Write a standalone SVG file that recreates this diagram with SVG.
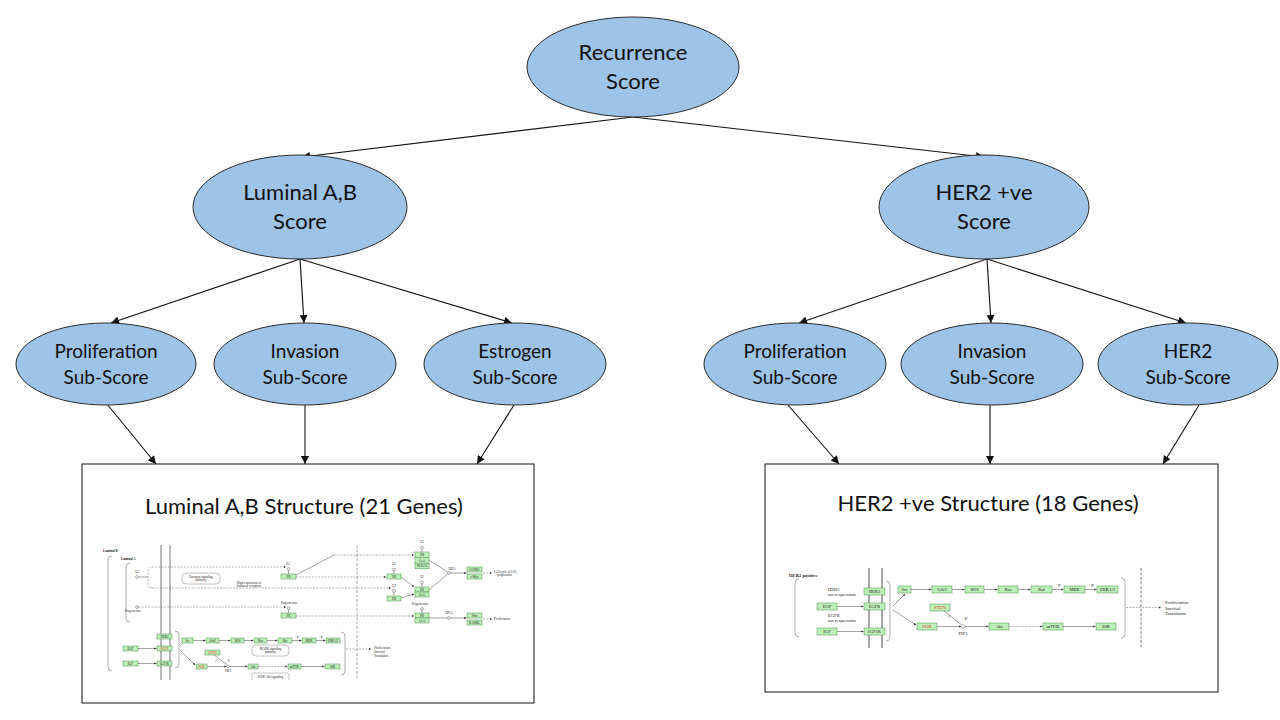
<svg xmlns="http://www.w3.org/2000/svg" width="1280" height="720" viewBox="0 0 1280 720">
<defs>
<style>
.node ellipse{fill:#9dc3e6;stroke:#2b2b2b;stroke-width:1}
.lbl{font-family:Lato,"Liberation Sans",sans-serif;fill:#111;text-anchor:middle}
.big{font-size:22px}
.sub{font-size:19px}
.conn line{stroke:#111;stroke-width:1.1;marker-end:url(#ah)}
.frame{fill:#fff;stroke:#111;stroke-width:1}
.title{font-family:Lato,"Liberation Sans",sans-serif;font-size:22px;fill:#111;text-anchor:middle}
.g{fill:#bdf0b8;stroke:#4a8a4a;stroke-width:0.5}
.mem{stroke:#8a8a8a;fill:none}
.br{stroke:#8a8a8a;fill:none;stroke-width:0.7}
.vd{stroke:#a8a8a8;fill:none;stroke-dasharray:3 1.5}
.pl{stroke:#333;stroke-width:0.45;fill:none}
.pa{stroke:#333;stroke-width:0.45;fill:none;marker-end:url(#sa)}
.pd{stroke:#555;stroke-width:0.45;fill:none;stroke-dasharray:2 1.2;marker-end:url(#sa)}
.c{fill:#fff;stroke:#333;stroke-width:0.4}
.rr{fill:#fff;stroke:#666;stroke-width:0.4}
.s{font-family:"Liberation Serif",serif;font-size:3.2px;fill:#222}
.sc{font-family:"Liberation Serif",serif;font-size:3.2px;fill:#222;text-anchor:middle}
.m{font-family:"Liberation Serif",serif;font-size:4.6px;fill:#222}
.mc{font-family:"Liberation Serif",serif;font-size:4.6px;fill:#222;text-anchor:middle}
.b{font-weight:bold}
text.r{fill:#e0301e}
</style>
<marker id="ah" viewBox="0 0 10 10" refX="10" refY="5" markerUnits="userSpaceOnUse" markerWidth="9" markerHeight="8" orient="auto">
<path d="M0,0 L10,5 L0,10 z" fill="#111"/>
</marker>
<marker id="sa" viewBox="0 0 10 10" refX="10" refY="5" markerUnits="userSpaceOnUse" markerWidth="2.6" markerHeight="2.2" orient="auto">
<path d="M0,0 L10,5 L0,10 z" fill="#222"/>
</marker>
</defs>
<rect width="1280" height="720" fill="#fff"/>

<g id="connectors" class="conn">
<line x1="633" y1="117" x2="302" y2="157"/>
<line x1="633" y1="117" x2="984" y2="157"/>
<line x1="300" y1="259" x2="111" y2="323"/>
<line x1="300" y1="259" x2="304" y2="323"/>
<line x1="300" y1="259" x2="512" y2="323"/>
<line x1="987" y1="259" x2="799" y2="323"/>
<line x1="987" y1="259" x2="991" y2="323"/>
<line x1="987" y1="259" x2="1186" y2="323"/>
<line x1="107" y1="404" x2="156" y2="464"/>
<line x1="305" y1="405" x2="305" y2="464"/>
<line x1="514" y1="405" x2="477" y2="464"/>
<line x1="788" y1="405" x2="839" y2="464"/>
<line x1="990" y1="405" x2="990" y2="464"/>
<line x1="1199" y1="405" x2="1163" y2="464"/>
</g>

<g id="recurrence" class="node">
<ellipse cx="633" cy="67" rx="106" ry="50"/>
<text class="lbl big" x="633" y="60">Recurrence</text>
<text class="lbl big" x="633" y="89">Score</text>
</g>
<g id="luminal" class="node">
<ellipse cx="300" cy="207" rx="107" ry="52"/>
<text class="lbl big" x="300" y="200">Luminal A,B</text>
<text class="lbl big" x="300" y="229">Score</text>
</g>
<g id="her2score" class="node">
<ellipse cx="984" cy="207" rx="105" ry="52"/>
<text class="lbl big" x="984" y="200">HER2 +ve</text>
<text class="lbl big" x="984" y="229">Score</text>
</g>
<g id="prolif-l" class="node">
<ellipse cx="106" cy="364" rx="90" ry="41"/>
<text class="lbl sub" x="106" y="358">Proliferation</text>
<text class="lbl sub" x="106" y="384">Sub-Score</text>
</g>
<g id="invasion-l" class="node">
<ellipse cx="305" cy="364" rx="91" ry="41"/>
<text class="lbl sub" x="305" y="358">Invasion</text>
<text class="lbl sub" x="305" y="384">Sub-Score</text>
</g>
<g id="estrogen" class="node">
<ellipse cx="515" cy="364" rx="91" ry="41"/>
<text class="lbl sub" x="515" y="358">Estrogen</text>
<text class="lbl sub" x="515" y="384">Sub-Score</text>
</g>
<g id="prolif-r" class="node">
<ellipse cx="795" cy="364" rx="91" ry="41"/>
<text class="lbl sub" x="795" y="358">Proliferation</text>
<text class="lbl sub" x="795" y="384">Sub-Score</text>
</g>
<g id="invasion-r" class="node">
<ellipse cx="992" cy="364" rx="91" ry="41"/>
<text class="lbl sub" x="992" y="358">Invasion</text>
<text class="lbl sub" x="992" y="384">Sub-Score</text>
</g>
<g id="her2sub" class="node">
<ellipse cx="1188" cy="364" rx="90" ry="41"/>
<text class="lbl sub" x="1188" y="358">HER2</text>
<text class="lbl sub" x="1188" y="384">Sub-Score</text>
</g>

<g id="luminal-structure">
<rect class="frame" x="82" y="464" width="452" height="239"/>
<text class="title" x="304" y="514">Luminal A,B Structure (21 Genes)</text>
<g id="luminal-pathway">
<text class="s b" x="103" y="552">Luminal B</text>
<text class="s b" x="121" y="560">Luminal A</text>
<path class="br" d="M112,556 Q108,556 108,560 V667 Q108,671 112,671"/>
<path class="br" d="M130,563 Q126,563 126,567 V618 Q126,622 130,622"/>
<line class="mem" x1="161" y1="545" x2="161" y2="680" stroke-width="1.2"/>
<line class="mem" x1="170" y1="545" x2="170" y2="680" stroke-width="1.2"/>
<line class="vd" x1="357" y1="545" x2="357" y2="680" stroke-width="1"/>
<text class="sc" x="137" y="573">E2</text>
<circle class="c" cx="137" cy="577" r="1.4"/>
<line class="pl" x1="138.5" y1="577" x2="148" y2="577"/>
<path class="pd" d="M153,588 Q148,588 148,583 V572 Q148,567 153,567 H286"/>
<path class="pd" d="M153,588 H391"/>
<rect class="rr" x="182" y="573" width="38" height="11" rx="4"/>
<text class="sc" x="201" y="577.8">Estrogen signaling</text>
<text class="sc" x="201" y="581.4">pathway</text>
<text class="sc" x="288" y="564.5">E2</text>
<circle class="c" cx="288.5" cy="569" r="1.4"/>
<line class="pl" x1="288.5" y1="570.4" x2="288.5" y2="574"/>
<rect class="g" x="281" y="574" width="15" height="5"/>
<text class="sc" x="288.5" y="577.6">ER</text>
<text class="sc" x="249" y="583.5">High expression of</text>
<text class="sc" x="249" y="587">hormone receptors</text>
<path class="pl" d="M296,575 L334,555"/>
<path class="pd" d="M334,555 H414"/>
<path class="pd" d="M296,577 H386"/>
<circle class="c" cx="137" cy="607" r="1.4"/>
<text class="sc" x="133" y="611.5">Progesterone</text>
<path class="pd" d="M138.5,607 H286"/>
<text class="sc" x="289" y="604">Progesterone</text>
<circle class="c" cx="288.5" cy="608" r="1.4"/>
<line class="pl" x1="288.5" y1="609.4" x2="288.5" y2="613"/>
<rect class="g" x="281" y="613" width="15" height="5"/>
<text class="sc" x="288.5" y="616.6">PR</text>
<path class="pd" d="M296,616 H414"/>
<text class="sc" x="422" y="543">E2</text>
<circle class="c" cx="422" cy="547.5" r="1.4"/>
<line class="pl" x1="422" y1="549" x2="422" y2="552"/>
<rect class="g" x="415" y="552" width="14" height="5.6"/>
<rect class="g" x="415" y="557.6" width="14" height="5.6"/>
<rect class="g" x="415" y="563.2" width="14" height="5.6"/>
<text class="sc" x="422" y="556">ER</text>
<text class="sc" x="422" y="561.6">CoA</text>
<text class="sc" x="422" y="567.2">NCOA3</text>
<text class="sc" x="394" y="565">E2</text>
<circle class="c" cx="394" cy="569.5" r="1.4"/>
<line class="pl" x1="394" y1="571" x2="394" y2="574"/>
<rect class="g" x="387" y="574" width="14" height="5"/>
<text class="sc" x="394" y="577.6">ER</text>
<text class="sc" x="394" y="587">E2</text>
<circle class="c" cx="394" cy="591" r="1.4"/>
<line class="pl" x1="394" y1="592.4" x2="394" y2="596"/>
<rect class="g" x="387" y="596" width="14" height="5"/>
<text class="sc" x="394" y="599.6">ER</text>
<text class="sc" x="422" y="578">E2</text>
<circle class="c" cx="422" cy="582.5" r="1.4"/>
<line class="pl" x1="422" y1="584" x2="422" y2="587"/>
<rect class="g" x="415" y="587" width="14" height="5"/>
<rect class="g" x="415" y="592" width="14" height="5"/>
<text class="sc" x="422" y="590.6">ER</text>
<text class="sc" x="422" y="595.6">CoA</text>
<path class="pa" d="M401,577 L414,587"/>
<path class="pa" d="M401,598 L414,594"/>
<path class="pl" d="M429,560 L447.8,572.2 M429,590 L447.8,573.8"/>
<circle class="c" cx="449" cy="573" r="1.4"/>
<text class="sc" x="452" y="569.5">DNA</text>
<path class="pa" d="M450.5,573 H466.5"/>
<rect class="g" x="467" y="567" width="15" height="5"/>
<rect class="g" x="467" y="574" width="15" height="5"/>
<text class="sc" x="474.5" y="570.6">CCND1</text>
<text class="sc" x="474.5" y="577.6">c-Myc</text>
<path class="pd" d="M483,573 H492"/>
<text class="s" x="494" y="572.5">Cell cycle (G1/S)</text>
<text class="s" x="497" y="576">progression</text>
<text class="sc" x="420" y="604.5">Progesterone</text>
<circle class="c" cx="422" cy="609" r="1.4"/>
<line class="pl" x1="422" y1="610.4" x2="422" y2="613"/>
<rect class="g" x="415" y="613" width="14" height="5"/>
<rect class="g" x="415" y="618" width="14" height="5"/>
<text class="sc" x="422" y="616.6">PR</text>
<text class="sc" x="422" y="621.6">CoA</text>
<path class="pl" d="M429,618 H447.6"/>
<circle class="c" cx="449" cy="618" r="1.4"/>
<text class="sc" x="449" y="614">DNA</text>
<path class="pa" d="M450.5,618 H466.5"/>
<rect class="g" x="467" y="613" width="15" height="5"/>
<rect class="g" x="467" y="620" width="15" height="5"/>
<text class="sc" x="474.5" y="616.6">Wnt</text>
<text class="sc" x="474.5" y="623.6">RANKL</text>
<path class="pd" d="M483,619 H492"/>
<text class="s" x="494" y="620">Proliferation</text>
<rect class="g" x="123" y="646" width="15" height="5"/>
<text class="sc" x="130.5" y="649.6">EGF</text>
<rect class="g" x="123" y="661" width="15" height="5"/>
<text class="sc" x="130.5" y="664.6">IGF</text>
<path class="pa" d="M138,648.5 H156.5"/>
<path class="pa" d="M138,663.5 H156.5"/>
<rect class="g" x="157" y="634" width="15" height="5"/>
<text class="sc" x="164.5" y="637.6">HER2</text>
<rect class="g" x="157" y="646" width="15" height="5"/>
<text class="sc r" x="164.5" y="649.6">EGFR</text>
<rect class="g" x="157" y="661" width="15" height="5"/>
<text class="sc" x="164.5" y="664.6">IGF1R</text>
<path class="br" d="M175,631 Q179,631 179,635 V664 Q179,668 175,668"/>
<path class="pa" d="M180,646 L185,641"/>
<path class="pa" d="M180,650 L195,665"/>
<rect class="g" x="182" y="638" width="11" height="5"/>
<text class="sc" x="187.5" y="641.6">Src</text>
<path class="pa" d="M193,640.5 H205.5"/>
<rect class="g" x="206" y="638" width="13" height="5"/>
<text class="sc" x="212.5" y="641.6">Grb2</text>
<path class="pa" d="M219,640.5 H230.5"/>
<rect class="g" x="231" y="638" width="13" height="5"/>
<text class="sc" x="237.5" y="641.6">SOS</text>
<path class="pa" d="M244,640.5 H253.5"/>
<rect class="g" x="254" y="638" width="13" height="5"/>
<text class="sc" x="260.5" y="641.6">Ras</text>
<path class="pa" d="M267,640.5 H277.5"/>
<rect class="g" x="278" y="638" width="14" height="5"/>
<text class="sc" x="285" y="641.6">Raf</text>
<path class="pa" d="M292,640.5 H301.5"/>
<text class="sc" x="297" y="637.5">+p</text>
<rect class="g" x="302" y="638" width="14" height="5"/>
<text class="sc" x="309" y="641.6">MEK</text>
<path class="pa" d="M316,640.5 H325.5"/>
<text class="sc" x="321" y="637.5">+p</text>
<rect class="g" x="326" y="638" width="14" height="5"/>
<text class="sc" x="333" y="641.6">ERK1/2</text>
<rect class="rr" x="252" y="645" width="37" height="11" rx="4"/>
<text class="sc" x="270.5" y="649.6">MAPK signaling</text>
<text class="sc" x="270.5" y="653.2">pathway</text>
<rect class="g" x="205" y="650" width="15" height="5"/>
<text class="sc r" x="212.5" y="653.6">PTEN</text>
<path class="pl" d="M214,655 L227,664.6 M217.5,659 L215.5,661.6"/>
<text class="sc" x="229" y="662">P</text>
<rect class="g" x="196" y="664" width="11" height="5"/>
<text class="sc r" x="201.5" y="667.6">PI3K</text>
<path class="pa" d="M207,666.5 H226.5"/>
<circle class="c" cx="228" cy="666.5" r="1.4"/>
<text class="sc" x="228" y="672">PIP3</text>
<path class="pa" d="M229.5,666.5 H247.5"/>
<rect class="g" x="248" y="664" width="10" height="5"/>
<text class="sc" x="253" y="667.6">Akt</text>
<path class="pd" d="M258,666.5 H287.5"/>
<rect class="g" x="288" y="664" width="13" height="5"/>
<text class="sc" x="294.5" y="667.6">mTOR</text>
<path class="pa" d="M301,666.5 H324.5"/>
<rect class="g" x="325" y="664" width="15" height="5"/>
<text class="sc" x="332.5" y="667.6">S6K</text>
<path class="rr" d="M252,680 V675 Q252,673 254,673 H287 Q289,673 289,675 V680"/>
<text class="sc" x="270.5" y="678">PI3K-Akt signaling</text>
<path class="br" d="M341,632 Q345,632 345,636 V671 Q345,675 341,675"/>
<path class="pd" d="M346,649 H371"/>
<text class="s" x="374" y="648.5">Proliferation</text>
<text class="s" x="374" y="652.5">Survival</text>
<text class="s" x="374" y="656.5">Translation</text>
</g>
</g>

<g id="her2-structure">
<rect class="frame" x="765" y="464" width="453" height="228"/>
<text class="title" x="988" y="511">HER2 +ve Structure (18 Genes)</text>
<g id="her2-pathway">
<text class="m b" x="789" y="577">HER2 positive</text>
<path class="br" d="M799,579 Q795,579 795,583 V633 Q795,637 799,637"/>
<line class="mem" x1="869" y1="568" x2="869" y2="648" stroke-width="1.5"/>
<line class="mem" x1="882" y1="568" x2="882" y2="648" stroke-width="1.5"/>
<line class="vd" x1="1141" y1="568" x2="1141" y2="648" stroke-width="1.5"/>
<text class="m" x="828" y="590.5">HER2</text>
<text class="m" x="828" y="595.5">overexpression</text>
<rect class="g" x="864" y="588" width="21" height="7"/>
<text class="mc" x="874.5" y="593.2">HER2</text>
<rect class="g" x="817" y="603" width="20" height="7"/>
<text class="mc" x="827" y="608.2">EGF</text>
<path class="pa" d="M837,606.5 H863.5"/>
<rect class="g" x="864" y="603" width="21" height="7"/>
<text class="mc" x="874.5" y="608.2">EGFR</text>
<text class="m" x="828" y="616.5">EGFR</text>
<text class="m" x="828" y="621.5">overexpression</text>
<rect class="g" x="817" y="628" width="20" height="7"/>
<text class="mc" x="827" y="633.2">IGF</text>
<path class="pa" d="M837,631.5 H863.5"/>
<rect class="g" x="864" y="628" width="21" height="7"/>
<text class="mc" x="874.5" y="633.2">IGF1R</text>
<path class="br" d="M886,581 Q890,581 890,585 V637 Q890,641 886,641"/>
<path class="pa" d="M893,606 L905,594"/>
<path class="pa" d="M893,610 L916,625"/>
<rect class="g" x="898" y="586" width="13" height="7"/>
<text class="mc" x="904.5" y="591.2">Src</text>
<path class="pa" d="M911,589.5 H931.5"/>
<rect class="g" x="932" y="586" width="20" height="7"/>
<text class="mc" x="942" y="591.2">Grb2</text>
<path class="pa" d="M952,589.5 H964.5"/>
<rect class="g" x="965" y="586" width="19" height="7"/>
<text class="mc" x="974.5" y="591.2">SOS</text>
<path class="pa" d="M984,589.5 H997.5"/>
<rect class="g" x="998" y="586" width="20" height="7"/>
<text class="mc" x="1008" y="591.2">Ras</text>
<path class="pa" d="M1018,589.5 H1030.5"/>
<rect class="g" x="1031" y="586" width="21" height="7"/>
<text class="mc" x="1041.5" y="591.2">Raf</text>
<path class="pa" d="M1052,589.5 H1063.5"/>
<text class="mc" x="1058" y="585.5">+p</text>
<rect class="g" x="1064" y="586" width="21" height="7"/>
<text class="mc" x="1074.5" y="591.2">MEK</text>
<path class="pa" d="M1085,589.5 H1096.5"/>
<text class="mc" x="1091" y="585.5">+p</text>
<rect class="g" x="1097" y="586" width="21" height="7"/>
<text class="mc" x="1107.5" y="591.2">ERK1/2</text>
<rect class="g" x="930" y="604" width="20" height="7"/>
<text class="mc r" x="940" y="609.2">PTEN</text>
<path class="pl" d="M944,611 L961.5,624.8 M950.5,614.5 L948,618"/>
<text class="mc" x="966" y="620">P</text>
<rect class="g" x="917" y="623" width="20" height="7"/>
<text class="mc r" x="927" y="628.2">PI3K</text>
<path class="pa" d="M937,626.5 H961"/>
<circle class="c" cx="963" cy="626.5" r="1.8"/>
<text class="mc" x="963" y="635">PIP3</text>
<path class="pa" d="M964.8,626.5 H988.5"/>
<rect class="g" x="989" y="623" width="20" height="7"/>
<text class="mc" x="999" y="628.2">Akt</text>
<path class="pd" d="M1009,626.5 H1042.5"/>
<rect class="g" x="1043" y="623" width="20" height="7"/>
<text class="mc" x="1053" y="628.2">mTOR</text>
<path class="pa" d="M1063,626.5 H1095.5"/>
<rect class="g" x="1096" y="623" width="20" height="7"/>
<text class="mc" x="1106" y="628.2">S6K</text>
<path class="br" d="M1121,578 Q1125,578 1125,582 V634 Q1125,638 1121,638"/>
<path class="pd" d="M1126,607.5 H1161"/>
<text class="m" x="1165" y="604">Proliferation</text>
<text class="m" x="1165" y="609.5">Survival</text>
<text class="m" x="1165" y="615">Translation</text>
</g>
</g>
</svg>
